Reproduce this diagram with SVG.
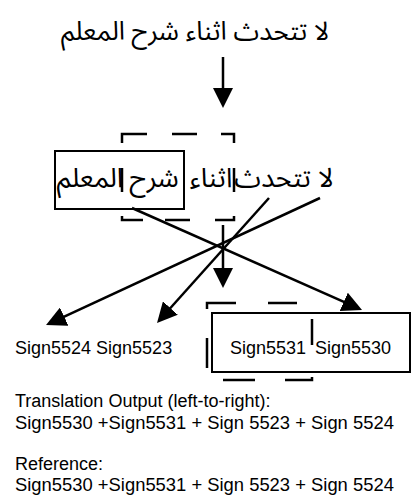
<svg xmlns="http://www.w3.org/2000/svg" width="411" height="497" viewBox="0 0 411 497">
  <style>
    .ar { font-family: "Noto Sans Arabic", "Noto Naskh Arabic", "DejaVu Sans", sans-serif; font-size: 27px; fill: #000; }
    .head { font-size: 26px; }
    .lbl { font-family: "Liberation Sans", Arial, sans-serif; font-size: 18px; fill: #000; }
    .wide { font-size: 18.4px; }
    .box { fill: none; stroke: #000; stroke-width: 2; }
    .dash { fill: none; stroke: #000; stroke-width: 2.5; }
    .conn { fill: none; stroke: #000; stroke-width: 2.5; marker-end: url(#head); }
  </style>
  <defs>
    <marker id="head" markerUnits="userSpaceOnUse" markerWidth="22" markerHeight="20" refX="10" refY="10" orient="auto" viewBox="0 0 22 20">
      <path d="M0,0 L20,10 L0,20 Z" fill="#000"/>
    </marker>
  </defs>

  <g id="source-sentence">
    <text class="ar head" x="195" y="40" text-anchor="middle">لا تتحدث اثناء شرح المعلم</text>
  </g>

  <g id="segmented-sentence">
    <text class="ar" x="90" y="187" text-anchor="middle">المعلم</text>
    <text class="ar" x="154" y="187" text-anchor="middle">شرح</text>
    <text class="ar" x="211" y="187" text-anchor="middle">اثناء</text>
    <text class="ar" x="284" y="187" text-anchor="middle">لا تتحدث</text>
  </g>

  <g id="group-solid-top">
    <rect class="box" x="55" y="151" width="129" height="58"/>
  </g>

  <g id="group-dashed-top">
    <path class="dash" d="M122,143 L122,134 L147,134 M172,134 L197,134 M221,134 L234,134 L234,143 M234,168 L234,192 M234,216 L234,220 L215,220 M190,220 L165,220 M143,220 L122,220 L122,216 M122,192 L122,168"/>
  </g>

  <g id="signs-left">
    <text class="lbl" x="15" y="354">Sign5524 Sign5523</text>
  </g>

  <g id="signs-right">
    <rect class="box" x="212" y="313" width="198" height="59"/>
    <text class="lbl" x="230" y="354">Sign5531</text>
    <text class="lbl" x="315" y="354">Sign5530</text>
  </g>

  <g id="group-dashed-bottom">
    <path class="dash" d="M207,309 L207,303 L236,303 M268,303 L297,303 M312,319 L312,345 M312,377 L312,380 L285,380 M255,380 L223,380 M207,368 L207,338"/>
  </g>

  <g id="connectors">
    <path class="conn" d="M223,57 L223,98"/>
    <path class="conn" d="M223,225 L223,278"/>
    <path class="conn" d="M132,208 L352.9,305.9"/>
    <path class="conn" d="M320,198 L55.1,320.8"/>
    <path class="conn" d="M269,198 L163.7,315.5"/>
  </g>

  <g id="output-text">
    <text class="lbl" x="15" y="407">Translation Output (left-to-right):</text>
    <text class="lbl wide" x="15" y="429">Sign5530 +Sign5531 + Sign 5523 + Sign 5524</text>
    <text class="lbl" x="15" y="470">Reference:</text>
    <text class="lbl wide" x="15" y="491">Sign5530 +Sign5531 + Sign 5523 + Sign 5524</text>
  </g>
</svg>
